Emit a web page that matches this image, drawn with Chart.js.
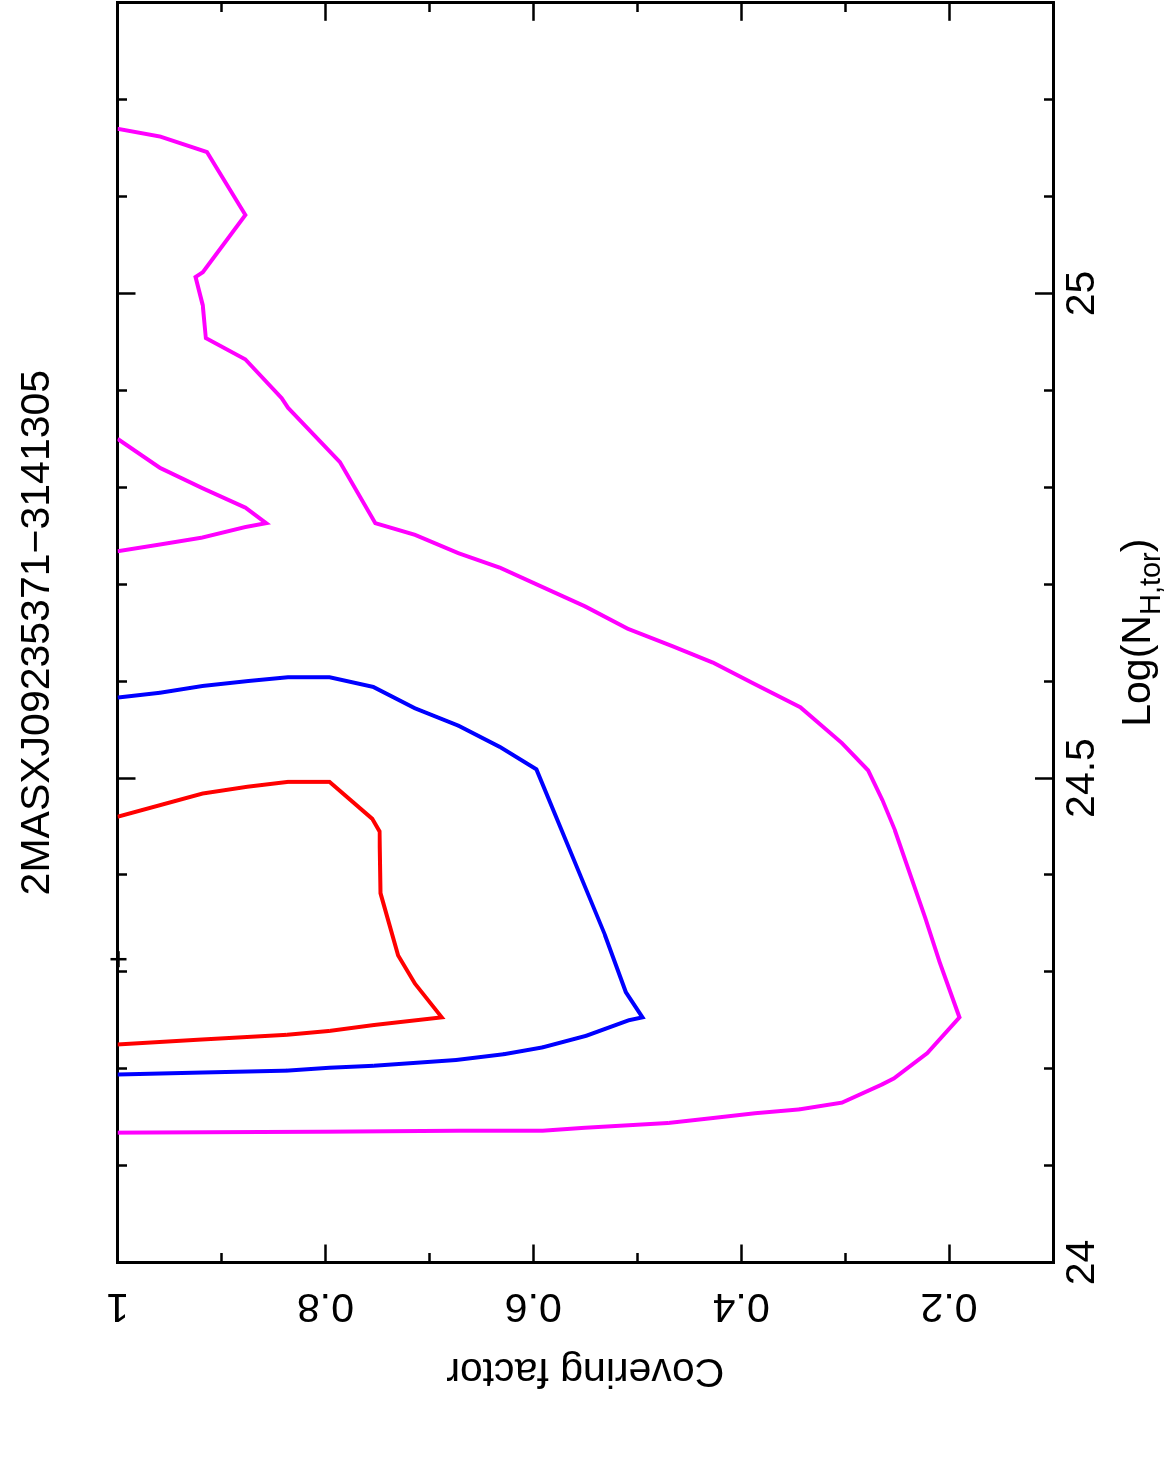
<!DOCTYPE html>
<html>
<head>
<meta charset="utf-8">
<title>2MASXJ09235371-3141305</title>
<script src="https://cdn.jsdelivr.net/npm/chart.js@4.4.0/dist/chart.umd.min.js"></script>
<style>
  html, body { margin: 0; padding: 0; background: #fff; }
  #wrap { position: relative; width: 1167px; height: 1459px; overflow: hidden; }
  /* the plot is drawn upright and turned a quarter to the left, like the original postscript */
  #wrap canvas { position: absolute; left: 0; top: 0; transform-origin: 0 0; transform: translate(0, 1459px) rotate(-90deg); }
</style>
</head>
<body>
<div id="wrap"><canvas id="contour-chart" width="1459" height="1167"></canvas></div>
<script>
// axis ranges and labelled ticks
const nhRange = [24, 25.3];
const cfRange = [0.1, 1];
const nhMajor = [24, 24.5, 25];
const cfMajor = [1, 0.8, 0.6, 0.4, 0.2];

// outer contour (magenta)
const outerNH = [24.134, 24.135, 24.136, 24.136, 24.139, 24.144, 24.149, 24.154, 24.158, 24.165,
  24.184, 24.190, 24.216, 24.253, 24.310, 24.356, 24.446, 24.477, 24.508, 24.536,
  24.573, 24.598, 24.619, 24.636, 24.654, 24.677, 24.697, 24.717, 24.732, 24.751,
  24.763, 24.826, 24.882, 24.892, 24.932, 24.954, 24.988, 25.017, 25.022, 25.081,
  25.146, 25.162, 25.170];
const outerCF = [1.0, 0.796, 0.671, 0.591, 0.551, 0.470, 0.428, 0.387, 0.344, 0.303,
  0.264, 0.253, 0.221, 0.190, 0.209, 0.223, 0.252, 0.264, 0.278, 0.303,
  0.343, 0.389, 0.427, 0.466, 0.509, 0.550, 0.591, 0.632, 0.672, 0.714,
  0.752, 0.786, 0.836, 0.842, 0.877, 0.915, 0.918, 0.925, 0.918, 0.877,
  0.914, 0.959, 1.0];

// small magenta island
const islandNH = [24.850, 24.820, 24.799, 24.779, 24.763, 24.759, 24.748, 24.741, 24.734];
const islandCF = [1.0, 0.959, 0.918, 0.877, 0.857, 0.877, 0.919, 0.959, 1.0];

// middle contour (blue)
const midNH = [24.194, 24.196, 24.198, 24.201, 24.203, 24.209, 24.215, 24.222, 24.234, 24.250,
  24.253, 24.279, 24.338, 24.509, 24.532, 24.554, 24.572, 24.594, 24.604, 24.604,
  24.600, 24.595, 24.588, 24.583];
const midCF = [1.0, 0.921, 0.837, 0.796, 0.754, 0.674, 0.628, 0.591, 0.549, 0.508,
  0.495, 0.511, 0.531, 0.597, 0.632, 0.672, 0.714, 0.754, 0.796, 0.836,
  0.875, 0.918, 0.959, 1.0];

// inner contour (red)
const innerNH = [24.225, 24.230, 24.235, 24.239, 24.245, 24.253, 24.288, 24.317, 24.381, 24.445,
  24.458, 24.496, 24.496, 24.491, 24.484, 24.472, 24.460];
const innerCF = [1.0, 0.921, 0.837, 0.796, 0.754, 0.688, 0.714, 0.730, 0.747, 0.748,
  0.755, 0.796, 0.836, 0.875, 0.918, 0.959, 1.0];

// best fit
const bestNH = [24.313];
const bestCF = [0.999];

const FONT = "'Liberation Sans', Arial, Helvetica, sans-serif";
Chart.defaults.font.family = FONT;
Chart.defaults.font.size = 41;
Chart.defaults.color = "#000";

const toPoints = (nh, cf) => nh.map((v, i) => ({ x: v, y: cf[i] }));
const round1 = (v) => Math.round(v * 10) / 10;
const isMajor = (list, v) => list.some((m) => Math.abs(m - v) < 1e-6);

// ticks point into the box; minor ones are cut short with a dash pattern
const TICK = 18;
function tickGrid(majors, startsInside) {
  return {
    drawOnChartArea: false,
    drawTicks: true,
    tickLength: -TICK,
    tickWidth: 2.5,
    tickColor: "#000",
    tickBorderDash: (ctx) => {
      if (!ctx.tick || isMajor(majors, ctx.tick.value)) return [];
      return startsInside ? [0, 8.5, 11, 100] : [11, 100];
    },
  };
}
const box = { display: true, color: "#000", width: 3 };

const lineSet = (label, nh, cf, color) => ({
  label,
  data: toPoints(nh, cf),
  showLine: true,
  borderColor: color,
  borderWidth: 4,
  pointRadius: 0,
  fill: false,
  tension: 0,
});

// Log(N_H,tor) axis title with a real subscript
const nhTitle = {
  id: "nhTitle",
  afterDraw(chart) {
    const { ctx, chartArea } = chart;
    const big = "41px " + FONT;
    const small = "29px " + FONT;
    ctx.save();
    ctx.fillStyle = "#000";
    ctx.textBaseline = "alphabetic";
    ctx.font = big;
    const w1 = ctx.measureText("Log(N").width;
    const w3 = ctx.measureText(")").width;
    ctx.font = small;
    const w2 = ctx.measureText("H,tor").width;
    let x = (chartArea.left + chartArea.right) / 2 - (w1 + w2 + w3) / 2;
    const y = 1150;
    ctx.font = big;
    ctx.fillText("Log(N", x, y);
    x += w1;
    ctx.font = small;
    ctx.fillText("H,tor", x, y + 10);
    x += w2;
    ctx.font = big;
    ctx.fillText(")", x, y);
    ctx.restore();
  },
};

const el = document.getElementById("contour-chart");

const chart = new Chart(el, {
  type: "scatter",
  data: {
    datasets: [
      lineSet("outer", outerNH, outerCF, "#ff00ff"),
      lineSet("island", islandNH, islandCF, "#ff00ff"),
      lineSet("middle", midNH, midCF, "#0000ff"),
      lineSet("inner", innerNH, innerCF, "#ff0000"),
      {
        label: "best fit",
        data: toPoints(bestNH, bestCF),
        pointStyle: "cross",
        pointRadius: 8,
        borderWidth: 2.5,
        borderColor: "#000",
        showLine: false,
        clip: false,
      },
    ],
  },
  options: {
    responsive: false,
    animation: false,
    devicePixelRatio: 1,
    events: [],
    layout: { autoPadding: false, padding: { top: 0, left: 0, right: 2.8, bottom: 0 } },
    plugins: {
      legend: { display: false },
      tooltip: { enabled: false },
      title: {
        display: true,
        text: "2MASXJ09235371\u22123141305",
        position: "top",
        fullSize: false,
        color: "#000",
        font: { size: 41, weight: "normal" },
        padding: { top: 13.4, bottom: 54.9 },
      },
    },
    scales: {
      x: {
        type: "linear",
        position: "bottom",
        min: nhRange[0],
        max: nhRange[1],
        weight: 1,
        ticks: {
          stepSize: 0.1,
          autoSkip: false,
          includeBounds: false,
          maxRotation: 0,
          padding: 0,
          // tall line box pushes the labels away from the axis without side padding
          font: { size: 41, lineHeight: 2.32 },
          callback: (v) => (isMajor(nhMajor, v) ? String(round1(v)) : ""),
        },
        grid: tickGrid(nhMajor, false),
        border: box,
        afterFit: (s) => { s.height = 114; },
      },
      xTop: {
        type: "linear",
        position: "top",
        min: nhRange[0],
        max: nhRange[1],
        ticks: { stepSize: 0.1, autoSkip: false, includeBounds: false, display: false },
        grid: tickGrid(nhMajor, true),
        border: box,
        afterFit: (s) => { s.height = 0; },
      },
      y: {
        type: "linear",
        position: "left",
        min: cfRange[0],
        max: cfRange[1],
        weight: 1,
        ticks: {
          stepSize: 0.1,
          autoSkip: false,
          includeBounds: false,
          minRotation: 90,
          maxRotation: 90,
          crossAlign: "center",
          padding: 32,
          callback: (v) => (isMajor(cfMajor, v) ? String(round1(v)) : ""),
        },
        title: {
          display: true,
          text: "Covering factor",
          color: "#000",
          font: { size: 41 },
          padding: { top: 64.4, bottom: 0 },
        },
        grid: tickGrid(cfMajor, true),
        border: box,
        afterFit: (s) => { s.width = 196.5; },
      },
      yRight: {
        type: "linear",
        position: "right",
        min: cfRange[0],
        max: cfRange[1],
        ticks: { stepSize: 0.1, autoSkip: false, includeBounds: false, display: false },
        grid: tickGrid(cfMajor, false),
        border: box,
        afterFit: (s) => { s.width = 0; },
      },
    },
  },
  plugins: [nhTitle],
});
</script>
</body>
</html>
